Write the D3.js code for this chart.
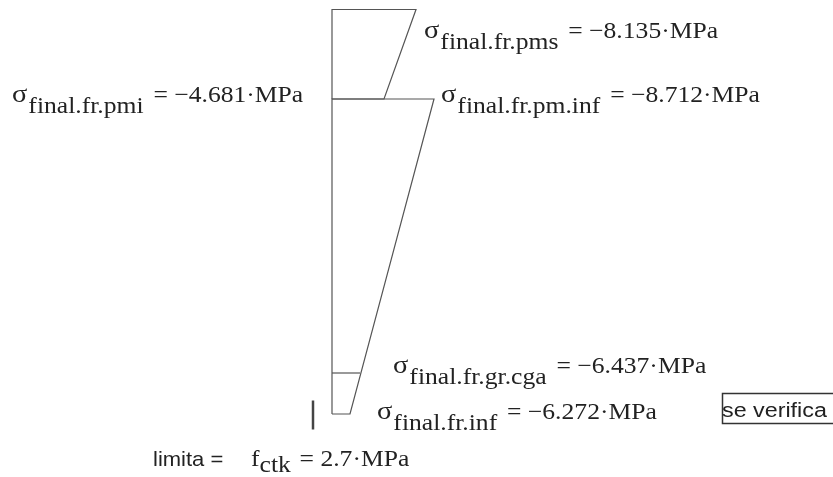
<!DOCTYPE html>
<html>
<head>
<meta charset="utf-8">
<script src="https://cdn.jsdelivr.net/npm/d3@7"></script>
<style>
  html, body { margin: 0; padding: 0; background: #fff; overflow: hidden; }
  svg { display: block; filter: blur(0.5px); }
</style>
</head>
<body>
<div id="chart"></div>
<script>
// stress diagram: width of each block at each depth
const upperDepths = [0, 89.5];
const upperWidths = [84, 52];
const lowerDepths = [89.5, 404.5];
const lowerWidths = [102, 18];
const gradeDepth = 363.5;
const gradeWidth = 28;
const limitDepths = [391, 420];
const limitWidth = -19;

const labelSubs = ["final.fr.pms", "final.fr.pm.inf", "final.fr.pmi", "final.fr.gr.cga", "final.fr.inf"];
const labelValues = ["= \u22128.135\u00b7MPa", "= \u22128.712\u00b7MPa", "= \u22124.681\u00b7MPa", "= \u22126.437\u00b7MPa", "= \u22126.272\u00b7MPa"];
const labelAnchors = [[84, 0], [102, 89.5], [-320, 89.5], [61, 363.5], [45, 404.5]];
const labelOffsets = [[8, 28], [7, 3], [0, 3], [0, 0], [0, 5]];

const width = 833, height = 477;
const stretch = 1.09; // text in the screenshot is a bit wider than the font
const svg = d3.select("#chart").append("svg")
  .attr("width", width)
  .attr("height", height);

const x = d3.scaleLinear().domain([0, 102]).range([332, 434]);
const y = d3.scaleLinear().domain([0, 404.5]).range([9.5, 414]);

const line = d3.line().x(d => x(d[0])).y(d => y(d[1]));
const stroke = "#555";

function block(depths, widths) {
  const pts = [
    [0, depths[1]], [0, depths[0]], [widths[0], depths[0]],
    [widths[1], depths[1]], [0, depths[1]]
  ];
  svg.append("path")
    .attr("d", line(pts))
    .attr("fill", "none")
    .attr("stroke", stroke)
    .attr("stroke-width", 1.2);
}
block(upperDepths, upperWidths);
block(lowerDepths, lowerWidths);

svg.append("path")
  .attr("d", line([[0, gradeDepth], [gradeWidth, gradeDepth]]))
  .attr("fill", "none")
  .attr("stroke", stroke)
  .attr("stroke-width", 1.2);

svg.append("path")
  .attr("d", line(limitDepths.map(d => [limitWidth, d])))
  .attr("fill", "none")
  .attr("stroke", "#444")
  .attr("stroke-width", 2.5);

const serif = "'Liberation Serif', serif";
const sans = "'Liberation Sans', sans-serif";

function place(px, py, sx) {
  return svg.append("text")
    .attr("transform", `translate(${px},${py}) scale(${sx},1)`)
    .attr("fill", "#222");
}

labelSubs.forEach((sub, i) => {
  const t = place(x(labelAnchors[i][0]) + labelOffsets[i][0],
                  y(labelAnchors[i][1]) + labelOffsets[i][1], stretch)
    .attr("font-family", serif);
  t.append("tspan").attr("font-size", 26).text("\u03c3");
  t.append("tspan").attr("font-size", 23.5).attr("dy", 11).attr("dx", 1).text(sub);
  t.append("tspan").attr("font-size", 23.5).attr("dy", -11).attr("dx", 9).text(labelValues[i]);
});

// limit line at the bottom
place(153, 466, 1.1)
  .attr("font-family", sans).attr("font-size", 20)
  .text("limita =");
const fctk = place(251, 466, stretch).attr("font-family", serif);
fctk.append("tspan").attr("font-size", 23.5).text("f");
fctk.append("tspan").attr("font-size", 23.5).attr("dy", 6).text("ctk");
fctk.append("tspan").attr("font-size", 23.5).attr("dy", -6).attr("dx", 8).text("= 2.7\u00b7MPa");

svg.append("rect")
  .attr("x", 722.5).attr("y", 393.5)
  .attr("width", 112).attr("height", 30)
  .attr("fill", "none").attr("stroke", "#333").attr("stroke-width", 1.5);
place(722, 417, 1.11)
  .attr("font-family", sans).attr("font-size", 21)
  .text("se verifica");
</script>
</body>
</html>
